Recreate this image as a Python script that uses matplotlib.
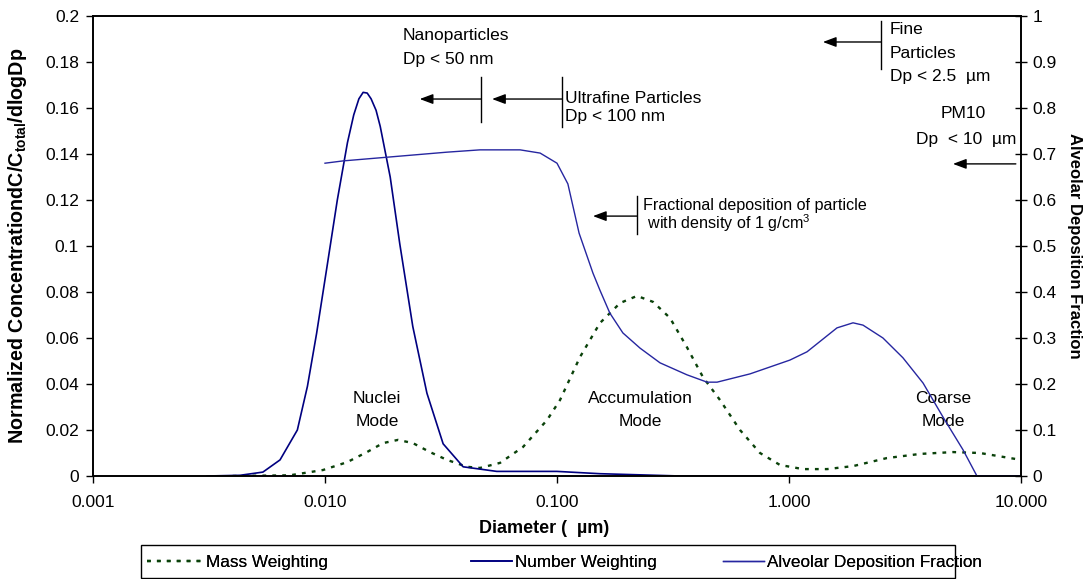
import numpy as np
import matplotlib
matplotlib.use('Agg')
import matplotlib.pyplot as plt
from matplotlib.patches import Rectangle
from matplotlib.ticker import FixedLocator, FixedFormatter, NullLocator

plt.rcParams['font.family'] = ['Liberation Sans', 'DejaVu Sans']
plt.rcParams['mathtext.fontset'] = 'custom'
plt.rcParams['mathtext.rm'] = 'Liberation Sans'
plt.rcParams['mathtext.bf'] = 'Liberation Sans:bold'
plt.rcParams['mathtext.it'] = 'Liberation Sans:italic'

# ---------------- data ----------------
mass_d = [0.004, 0.00706, 0.0098, 0.01245, 0.01517, 0.01778, 0.02064, 0.02393,
          0.02835, 0.03357, 0.04093, 0.04656, 0.0568, 0.07134, 0.09057, 0.103,
          0.1256, 0.1531, 0.187, 0.2213, 0.2594, 0.307, 0.3631, 0.4257, 0.5045,
          0.6149, 0.7499, 0.9141, 1.148, 1.459, 1.888, 2.643, 3.673, 5.093,
          6.653, 10.0]
mass_c = [0.0, 0.0003, 0.0026, 0.006, 0.0104, 0.0143, 0.0157, 0.0143,
          0.0104, 0.007, 0.004, 0.0035, 0.0057, 0.0126, 0.0243, 0.033,
          0.0517, 0.0665, 0.0752, 0.0783, 0.0757, 0.0687, 0.056, 0.043, 0.033,
          0.020, 0.010, 0.0048, 0.003, 0.003, 0.0043, 0.0078, 0.0096, 0.0104,
          0.010, 0.007]

num_d = [0.0031, 0.0043, 0.0054, 0.0064, 0.0076, 0.0084, 0.0092, 0.0102,
         0.0113, 0.0125, 0.0133, 0.0140, 0.0146, 0.0152, 0.0158, 0.0166,
         0.0173, 0.0191, 0.021, 0.0239, 0.0275, 0.0323, 0.0394, 0.055, 0.1,
         0.153, 0.34, 10.0]
num_c = [0.0, 0.0003, 0.0017, 0.007, 0.020, 0.039, 0.062, 0.091,
         0.120, 0.145, 0.157, 0.164, 0.1668, 0.1665, 0.164, 0.159,
         0.152, 0.130, 0.101, 0.065, 0.036, 0.014, 0.004, 0.002, 0.002,
         0.001, 0.0, 0.0]

alv_d = [0.01, 0.01197, 0.01849, 0.03357, 0.04656, 0.06935, 0.08458, 0.1,
         0.1114, 0.1245, 0.1429, 0.1531, 0.169, 0.1923, 0.228, 0.278, 0.3631,
         0.4436, 0.4898, 0.6792, 1.009, 1.196, 1.61, 1.888, 2.084, 2.541,
         3.098, 3.784, 4.613, 5.623, 6.457, 10.0]
alv_f = [0.680, 0.685, 0.693, 0.704, 0.709, 0.709, 0.702, 0.680,
         0.635, 0.528, 0.441, 0.404, 0.354, 0.311, 0.278, 0.246, 0.220,
         0.204, 0.204, 0.222, 0.252, 0.270, 0.322, 0.333, 0.328, 0.300,
         0.257, 0.202, 0.128, 0.057, 0.0, 0.0]

x_ticks = [0.001, 0.01, 0.1, 1.0, 10.0]
x_tick_labels = ['0.001', '0.010', '0.100', '1.000', '10.000']
left_ticks = [0, 0.02, 0.04, 0.06, 0.08, 0.1, 0.12, 0.14, 0.16, 0.18, 0.2]
left_tick_labels = ['0', '0.02', '0.04', '0.06', '0.08', '0.1', '0.12',
                    '0.14', '0.16', '0.18', '0.2']
right_ticks = [0, 0.1, 0.2, 0.3, 0.4, 0.5, 0.6, 0.7, 0.8, 0.9, 1.0]
right_tick_labels = ['0', '0.1', '0.2', '0.3', '0.4', '0.5', '0.6', '0.7',
                     '0.8', '0.9', '1']

# ---------------- figure ----------------
W, H = 1092, 579
fig = plt.figure(figsize=(W / 100, H / 100), dpi=100)
ax = fig.add_axes([93 / W, 1 - 476 / H, (1021 - 93) / W, 460 / H])
ax2 = ax.twinx()

ax.set_xscale('log')
ax.set_xlim(0.001, 10)
ax.set_ylim(0, 0.2)
ax2.set_ylim(0, 1)

FS = 12.5
l_mass, = ax.plot(mass_d, mass_c, color='#0a420a', ls=(0, (1.6, 2.6)), lw=1.7,
                  label='Mass Weighting')
l_num, = ax.plot(num_d, num_c, color='#000080', lw=1.2, label='Number Weighting')
l_alv, = ax2.plot(alv_d, alv_f, color='#2626a0', lw=1.0,
                  label='Alveolar Deposition Fraction')

for a in (ax, ax2):
    for s in a.spines.values():
        s.set_linewidth(1.2)
        s.set_color('black')

ax.xaxis.set_major_locator(FixedLocator(x_ticks))
ax.xaxis.set_major_formatter(FixedFormatter(x_tick_labels))
ax.xaxis.set_minor_locator(NullLocator())
ax.yaxis.set_major_locator(FixedLocator(left_ticks))
ax.yaxis.set_major_formatter(FixedFormatter(left_tick_labels))
ax2.yaxis.set_major_locator(FixedLocator(right_ticks))
ax2.yaxis.set_major_formatter(FixedFormatter(right_tick_labels))

ax.tick_params(axis='x', direction='out', length=5, width=1, labelsize=FS, pad=9)
ax.tick_params(axis='y', direction='out', length=5, width=1, labelsize=FS, pad=5)
ax2.tick_params(axis='y', direction='inout', length=9, width=1, labelsize=FS, pad=4)

ax.set_xlabel('Diameter (  µm)', fontsize=13, fontweight='bold')
ax.xaxis.set_label_coords((544 - 93) / 928, -(520 - 476) / 460)
ax.set_ylabel(r'Normalized ConcentrationdC/C$_{\mathbf{total}}$/dlogDp',
              fontsize=14.2, fontweight='bold')
ax.yaxis.set_label_coords(-(93 - 29) / 928, 0.5)
ax2.set_ylabel('Alveolar Deposition Fraction', fontsize=12, fontweight='bold',
               rotation=270, labelpad=18)

# ---------------- annotations ----------------
arrow = dict(arrowstyle='-|>,head_length=0.8,head_width=0.3', color='black',
             lw=1.0, shrinkA=0, shrinkB=0)
lk = dict(color='black', lw=1.0)

ax.text(0.0217, 0.1917, 'Nanoparticles', fontsize=FS, va='center', ha='left')
ax.text(0.0217, 0.1809, 'Dp < 50 nm', fontsize=FS, va='center', ha='left')
ax.plot([0.047, 0.047], [0.1539, 0.1735], **lk)
ax.annotate('', xy=(0.0256, 0.1639), xytext=(0.047, 0.1639), arrowprops=arrow)

ax.plot([0.105, 0.105], [0.1517, 0.1735], **lk)
ax.annotate('', xy=(0.0525, 0.1639), xytext=(0.105, 0.1639), arrowprops=arrow)
ax.text(0.1083, 0.1643, 'Ultrafine Particles', fontsize=FS, va='center', ha='left')
ax.text(0.1083, 0.1561, 'Dp < 100 nm', fontsize=FS, va='center', ha='left')

ax.plot([2.494, 2.494], [0.1770, 0.1978], **lk)
ax.annotate('', xy=(1.40, 0.1887), xytext=(2.494, 0.1887), arrowprops=arrow)
ax.text(2.72, 0.1943, 'Fine', fontsize=FS, va='center', ha='left')
ax.text(2.72, 0.1839, 'Particles', fontsize=FS, va='center', ha='left')
ax.text(2.72, 0.1735, 'Dp < 2.5  µm', fontsize=FS, va='center', ha='left')

ax.text(5.62, 0.1578, 'PM10', fontsize=FS, va='center', ha='center')
ax.text(5.80, 0.1461, 'Dp  < 10  µm', fontsize=FS, va='center', ha='center')
ax.annotate('', xy=(5.09, 0.1357), xytext=(9.5, 0.1357), arrowprops=arrow)

ax.plot([0.2213, 0.2213], [0.1052, 0.1217], **lk)
ax.annotate('', xy=(0.1429, 0.1130), xytext=(0.2213, 0.1130), arrowprops=arrow)
ax.text(0.2348, 0.1178, 'Fractional deposition of particle', fontsize=11.6,
        va='center', ha='left')
ax.text(0.2348, 0.1100, r' with density of 1 g/cm$^{3}$', fontsize=11.6,
        va='center', ha='left')

for xc, name in [(0.01675, 'Nuclei'), (0.228, 'Accumulation'), (4.61, 'Coarse')]:
    ax.text(xc, 0.0339, name, fontsize=FS, va='center', ha='center')
    ax.text(xc, 0.0239, 'Mode', fontsize=FS, va='center', ha='center')

# ---------------- legend (one frame, three entries placed like the reference) ----
fig.patches.append(Rectangle((141 / W, 1 - 578 / H), (955 - 141) / W, 33 / H,
                             transform=fig.transFigure, fill=False,
                             edgecolor='black', lw=1.0))
LFS = 12.3
px_per_em = LFS * 100 / 72
for handle, xl, hl in [(l_mass, 147, 56), (l_num, 471, 41), (l_alv, 723, 41)]:
    lg = fig.legend(handles=[handle], loc='center left',
                    bbox_to_anchor=(xl / W, 1 - 562 / H), fontsize=LFS,
                    frameon=False, borderpad=0, borderaxespad=0,
                    handlelength=hl / px_per_em, handletextpad=0.2)
    fig.add_artist(lg)

fig.savefig('out.png', dpi=100)
